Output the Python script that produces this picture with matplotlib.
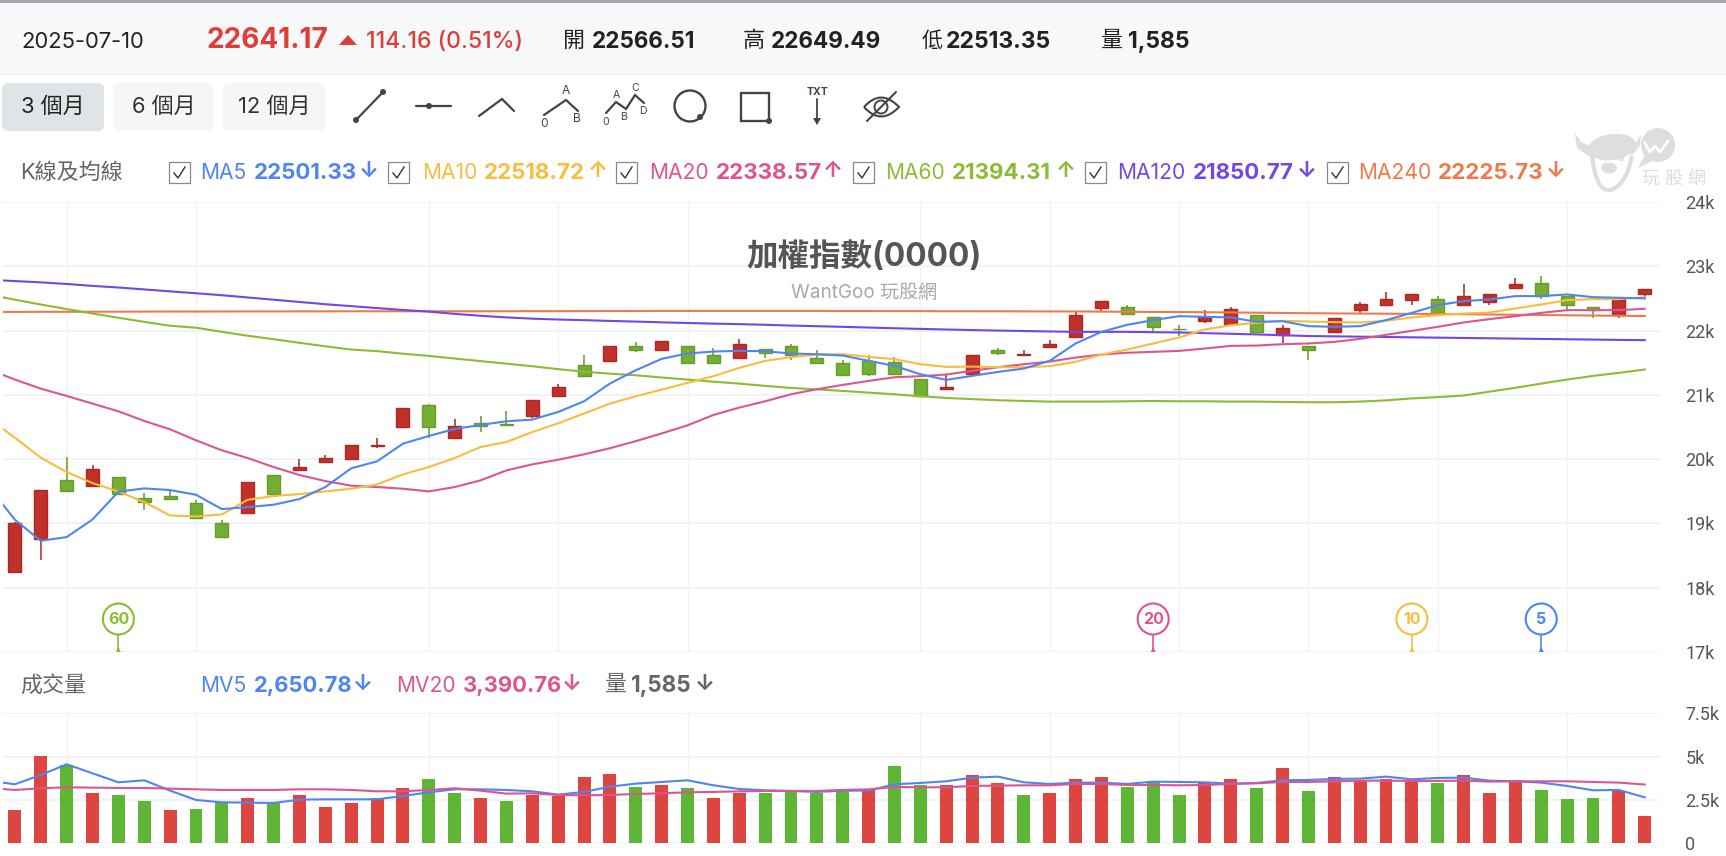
import numpy as np
import matplotlib
matplotlib.use('Agg')
import matplotlib.pyplot as plt
from matplotlib.patches import Rectangle, FancyBboxPatch, Circle, Ellipse, Polygon, PathPatch
from matplotlib.path import Path
from matplotlib.ticker import FixedLocator, FuncFormatter

plt.rcParams['font.family'] = ['Inter', 'Noto Sans CJK TC', 'DejaVu Sans']

# daily candles, oldest first
opens = [18242, 18761, 19675, 19581, 19722, 19400, 19431, 19322, 19005, 19161,
         19748, 19831, 19955, 20007, 20204, 20505, 20838, 20334, 20568, 20542,
         20677, 20978, 21461, 21523, 21762, 21700, 21762, 21617, 21575, 21710,
         21762, 21570, 21492, 21534, 21513, 21243, 21098, 21331, 21695, 21627,
         21747, 21902, 22349, 22359, 22214, 22028, 22147, 22100, 22235, 21934,
         21757, 21975, 22323, 22396, 22473, 22484, 22396, 22448, 22666, 22733,
         22536, 22359, 22240, 22566.51]
highs = [19021, 19524, 20028, 19903, 19722, 19472, 19514, 19358, 19057, 19644,
         19748, 20002, 20069, 20220, 20324, 20791, 20864, 20620, 20666, 20744,
         20921, 21170, 21627, 21762, 21819, 21840, 21762, 21736, 21866, 21710,
         21788, 21695, 21539, 21617, 21591, 21243, 21305, 21617, 21736, 21695,
         21861, 22292, 22463, 22400, 22214, 22084, 22318, 22359, 22235, 22084,
         21757, 22193, 22437, 22593, 22567, 22541, 22717, 22567, 22811, 22847,
         22536, 22359, 22484, 22649.49]
lows = [18242, 18434, 19509, 19581, 19462, 19202, 19384, 19088, 18787, 19161,
        19426, 19831, 19955, 20007, 20178, 20505, 20334, 20334, 20428, 20526,
        20646, 20978, 21300, 21523, 21669, 21700, 21503, 21503, 21575, 21575,
        21549, 21503, 21305, 21295, 21331, 20978, 21098, 21331, 21617, 21601,
        21747, 21902, 22307, 22240, 21964, 21913, 22120, 22100, 21975, 21799,
        21549, 21975, 22276, 22396, 22396, 22266, 22396, 22396, 22666, 22494,
        22318, 22199, 22199, 22513.35]
closes = [19005, 19524, 19509, 19846, 19462, 19332, 19384, 19088, 18787, 19644,
          19462, 19877, 20023, 20220, 20220, 20791, 20505, 20516, 20516, 20526,
          20921, 21118, 21300, 21762, 21695, 21840, 21503, 21503, 21788, 21648,
          21617, 21503, 21305, 21326, 21331, 20978, 21124, 21617, 21648, 21643,
          21788, 22240, 22463, 22265, 22048, 22018, 22204, 22339, 21975, 22037,
          21695, 22193, 22411, 22484, 22567, 22266, 22541, 22567, 22718, 22536,
          22401, 22318, 22484, 22641.17]

# moving averages start one session before the first candle
ma5 = [19566, 19057, 18730, 18787, 19062, 19493, 19545, 19519, 19446, 19223,
       19254, 19291, 19379, 19566, 19857, 19966, 20241, 20360, 20469, 20532,
       20589, 20615, 20734, 20900, 21176, 21383, 21560, 21643, 21674, 21684,
       21679, 21643, 21632, 21612, 21529, 21451, 21321, 21233, 21295, 21357,
       21409, 21529, 21799, 21980, 22090, 22162, 22224, 22214, 22204, 22136,
       22146, 22069, 22058, 22069, 22162, 22276, 22396, 22458, 22484, 22536,
       22536, 22562, 22520, 22510, 22501.33]
ma10 = [20630, 20334, 20023, 19799, 19628, 19498, 19332, 19124, 19109, 19140,
        19368, 19426, 19457, 19498, 19540, 19607, 19763, 19877, 20017, 20189,
        20267, 20422, 20557, 20710, 20864, 20978, 21082, 21186, 21290, 21420,
        21529, 21586, 21627, 21632, 21591, 21555, 21477, 21435, 21440, 21430,
        21430, 21445, 21513, 21627, 21705, 21799, 21892, 22017, 22084, 22120,
        22152, 22141, 22131, 22126, 22152, 22204, 22240, 22266, 22281, 22344,
        22406, 22474, 22489, 22489, 22518.72]
ma20 = [21393, 21238, 21097, 20983, 20864, 20744, 20594, 20464, 20293, 20137,
        20017, 19877, 19753, 19659, 19587, 19566, 19540, 19498, 19566, 19670,
        19825, 19919, 19991, 20075, 20170, 20280, 20400, 20526, 20687, 20802,
        20900, 21009, 21087, 21155, 21217, 21274, 21290, 21316, 21373, 21430,
        21477, 21518, 21580, 21627, 21655, 21669, 21684, 21721, 21762, 21767,
        21788, 21799, 21824, 21871, 21934, 21996, 22058, 22126, 22178, 22224,
        22276, 22318, 22318, 22318, 22338.57]
ma60 = [22560, 22480, 22405, 22335, 22265, 22200, 22135, 22075, 22045, 21980,
        21920, 21865, 21810, 21755, 21705, 21680, 21640, 21606, 21565, 21525,
        21485, 21445, 21400, 21360, 21330, 21305, 21270, 21238, 21205, 21175,
        21140, 21108, 21085, 21061, 21035, 21009, 20978, 20952, 20934, 20916,
        20905, 20895, 20895, 20895, 20900, 20905, 20900, 20900, 20895, 20895,
        20890, 20885, 20885, 20895, 20915, 20945, 20965, 20990, 21050, 21110,
        21175, 21238, 21295, 21342, 21394.31]
ma120 = [22790, 22770, 22750, 22725, 22695, 22670, 22640, 22610, 22580, 22550,
         22515, 22480, 22445, 22410, 22380, 22350, 22320, 22295, 22260, 22230,
         22205, 22185, 22172, 22162, 22150, 22140, 22128, 22118, 22108, 22100,
         22090, 22078, 22068, 22058, 22047, 22036, 22026, 22017, 22008, 22000,
         21993, 21986, 21980, 21980, 21980, 21975, 21970, 21960, 21950, 21940,
         21928, 21915, 21910, 21905, 21900, 21895, 21890, 21885, 21880, 21875,
         21870, 21865, 21860, 21855, 21850.77]
ma240 = [22290, 22290, 22292, 22292, 22293, 22294, 22295, 22296, 22296, 22297,
         22298, 22298, 22299, 22299, 22300, 22300, 22300, 22300, 22300, 22300,
         22301, 22302, 22302, 22303, 22304, 22304, 22305, 22305, 22305, 22305,
         22305, 22305, 22305, 22304, 22304, 22303, 22302, 22301, 22300, 22300,
         22299, 22298, 22297, 22295, 22292, 22290, 22288, 22285, 22282, 22278,
         22274, 22270, 22267, 22265, 22262, 22260, 22257, 22254, 22250, 22246,
         22242, 22238, 22234, 22230, 22225.73]

volume = [1904, 5038, 4519, 2904, 2808, 2442, 1904, 1981, 2365, 2615,
          2346, 2808, 2077, 2346, 2615, 3173, 3731, 2904, 2615, 2442,
          2808, 2712, 3827, 4000, 3269, 3365, 3173, 2615, 2904, 2904,
          3000, 2904, 3000, 3077, 4461, 3365, 3365, 3923, 3461, 2808,
          2904, 3731, 3827, 3269, 3558, 2808, 3461, 3731, 3173, 4365,
          3000, 3827, 3654, 3731, 3615, 3461, 3923, 2904, 3654, 3077,
          2538, 2615, 3000, 1585]
volume_up = 'RRGRGGRGGRGRRRRRGGRGRRRRGRGRRGGGGRGGRRRGRRRGGGRRGRGRRRRGRRRGGGRR'
mv5 = [3615, 3404, 3942, 4558, 4038, 3519, 3635, 3038, 2500, 2365,
       2346, 2327, 2519, 2538, 2538, 2538, 2731, 2942, 3115, 3115,
       3077, 3000, 2808, 2962, 3269, 3442, 3538, 3635, 3346, 3135,
       3058, 3019, 2962, 3038, 3040, 3404, 3481, 3577, 3788, 3846,
       3519, 3423, 3500, 3500, 3423, 3558, 3538, 3519, 3442, 3481,
       3635, 3654, 3711, 3731, 3846, 3692, 3769, 3788, 3615, 3577,
       3500, 3308, 3058, 3077, 2650.78]
mv20 = [3192, 3077, 3173, 3231, 3212, 3192, 3192, 3154, 3115, 3077,
        3077, 3077, 3115, 3115, 3077, 3000, 3000, 3077, 3173, 3038,
        2865, 2885, 2788, 2769, 2788, 2846, 2885, 2942, 2962, 3000,
        3019, 3019, 3019, 3077, 3115, 3250, 3231, 3231, 3308, 3327,
        3346, 3346, 3423, 3423, 3365, 3365, 3346, 3365, 3423, 3461,
        3538, 3538, 3577, 3615, 3615, 3596, 3596, 3615, 3558, 3577,
        3577, 3577, 3538, 3500, 3390.76]

# sessions that carry a vertical gridline
grid_days = [2, 7, 16, 21, 26, 35, 40, 45, 50, 55, 60]
price_ticks = [17000, 18000, 19000, 20000, 21000, 22000, 23000, 24000]
volume_ticks = [0, 2500, 5000, 7500]
ma_names = ['MA5', 'MA10', 'MA20', 'MA60', 'MA120', 'MA240']
ma_arrows = ['↓', '↑', '↑', '↑', '↓', '↓']
# session each average's drop-off flag sits on
flag_days = [4, 44, 54, 59]
flag_labels = ['60', '20', '10', '5']

RED = '#dd3f38'
BODY_RED = '#c2302a'
BODY_GREEN = '#74ae33'
MA_COLORS = ['#4f85f0', '#f8bc3e', '#db5691', '#8cbb35', '#7446e4', '#f0794b']
GRID = '#f1f2f3'
ICON = '#444444'

W, H = 1726, 856
LEFT, RIGHT = 3, 1659
# x pixel of session i is X0 + STEP * i
X0, STEP = 14.9, 25.87
fig = plt.figure(figsize=(W / 100, H / 100), dpi=100, facecolor='white')


def panel(top, bottom):
    return fig.add_axes([LEFT / W, 1 - bottom / H, (RIGHT - LEFT) / W, (bottom - top) / H])


def fs(px):
    return px * 0.72


def setup_panel(ax, ticks, formatter, ymin, ymax):
    ax.set_xlim(XMIN, XMAX)
    ax.set_ylim(ymin, ymax)
    for spine in ax.spines.values():
        spine.set_visible(False)
    ax.set_axisbelow(True)
    ax.xaxis.set_major_locator(FixedLocator(grid_days))
    ax.yaxis.set_major_locator(FixedLocator(ticks))
    ax.yaxis.set_major_formatter(FuncFormatter(formatter))
    ax.yaxis.tick_right()
    ax.tick_params(axis='x', length=0, labelbottom=False)
    ax.tick_params(axis='y', length=0, pad=19, labelsize=fs(18), labelcolor='#555555',
                   labelfontfamily='Roboto')
    ax.grid(axis='x', color=GRID, lw=1.0)
    ax.grid(axis='y', color='#f0f1f2', lw=1.3)
    for lab in ax.get_yticklabels():
        lab.set_ha('left')


def k_label(v, pos):
    return f'{v / 1000:g}k' if v else '0'


XMIN = (LEFT - X0) / STEP
XMAX = (RIGHT - X0) / STEP
days = np.arange(len(closes))
ma_days = np.arange(-1, len(closes))

ax_price = panel(202, 652)
setup_panel(ax_price, price_ticks, k_label, 17000, 24000)
ax_vol = panel(713.3, 843.3)
setup_panel(ax_vol, volume_ticks, k_label, 0, 7500)

# candles
o = np.array(opens)
h = np.array(highs)
l = np.array(lows)
c = np.array(closes)
up = c >= o
body_colors = [BODY_RED if u else BODY_GREEN for u in up]
edge_colors = ['#aa2a25' if u else '#669c2d' for u in up]
wick_colors = ['#a8241e' if u else '#5f9a2c' for u in up]
ax_price.vlines(days, l, h, colors=wick_colors, lw=1.1, zorder=2)
ax_price.bar(days, np.abs(c - o), bottom=np.minimum(o, c), width=0.5,
             color=body_colors, edgecolor=edge_colors, lw=1.0, zorder=3)

for series, color in zip([ma240, ma120, ma60, ma20, ma10, ma5], MA_COLORS[::-1]):
    ax_price.plot(ma_days, series, color=color, lw=1.5, zorder=4,
                  solid_joinstyle='round')

# volume panel
bar_colors = ['#dd4540' if f == 'R' else '#5fb636' for f in volume_up]
ax_vol.bar(days, volume, width=0.5, color=bar_colors, zorder=2)
ax_vol.plot(ma_days, mv5, color=MA_COLORS[0], lw=1.5, zorder=3)
ax_vol.plot(ma_days, mv20, color=MA_COLORS[2], lw=1.5, zorder=4)

# page furniture is laid out in pixels on a transparent full-size axes
ui = fig.add_axes([0, 0, 1, 1], zorder=5)
ui.set_xlim(0, W)
ui.set_ylim(H, 0)
ui.axis('off')
ui.patch.set_alpha(0)

ui.add_patch(Rectangle((0, 3), W, 71, color='#f7f8fa', lw=0))
ui.add_patch(Rectangle((0, 0), W, 3, color='#a4aab0', lw=0))
ui.add_patch(Rectangle((0, 73.5), W, 1.2, color='#e9ebed', lw=0))


def label(x, y, s, px, color='#222222', weight='normal', ha='left', **kw):
    return ui.text(x, y, s, fontsize=fs(px), color=color, fontweight=weight,
                   ha=ha, va='center', **kw)


label(21, 42, '2025-07-10', 22)
label(206, 40, '22641.17', 28, RED, 'bold')
ui.add_patch(Polygon([(339, 45), (357, 45), (348, 35)], color=RED, lw=0))
label(366, 42, '114.16 (0.51%)', 23, RED, 'medium')
label(563, 41, '開', 22)
label(592, 42, '22566.51', 22.5, weight='bold')
label(743, 41, '高', 22)
label(771, 42, '22649.49', 22.5, weight='bold')
label(922, 41, '低', 21)
label(946, 42, '22513.35', 23, weight='bold')
label(1101, 41, '量', 22)
label(1128, 42, '1,585', 23, weight='bold')

# range buttons
for x0, x1, text, bg, fg in [(2, 104, '3 個月', '#dfe4e6', '#222222'),
                             (113, 214, '6 個月', '#f5f6f8', '#333333'),
                             (223, 325, '12 個月', '#f5f6f8', '#333333')]:
    ui.add_patch(FancyBboxPatch((x0 + 3, 86), x1 - x0 - 6, 42, boxstyle='round,pad=0,rounding_size=3',
                                mutation_aspect=1, fc=bg, ec=bg, lw=6 * 0.72))
    label((x0 + x1) / 2, 107, text, 22, fg, ha='center')


def icon_line(points, lw=1.6):
    xs, ys = zip(*points)
    ui.plot(xs, ys, color=ICON, lw=lw, solid_capstyle='round', solid_joinstyle='miter')


def icon_dot(x, y, r=3):
    ui.add_patch(Circle((x, y), r, color=ICON, lw=0))


icon_line([(356, 120), (383, 92)])
icon_dot(356, 120)
icon_dot(383, 92)
icon_line([(416, 106), (451, 106)])
icon_dot(429, 106)
icon_line([(479, 116), (502, 99), (514, 111)])
icon_line([(544, 115), (566, 100), (578, 111)])
for x, y, s in [(566, 91, 'A'), (544, 124, '0'), (577, 119, 'B')]:
    label(x, y, s, 12, ICON, ha='center')
icon_line([(606, 113), (616, 102), (626, 109), (635, 95), (644, 103)])
for x, y, s in [(616, 95, 'A'), (635, 88, 'C'), (606, 122, '0'), (624, 117, 'B'), (643, 111, 'D')]:
    label(x, y, s, 10.5, ICON, ha='center')
ui.add_patch(Circle((690, 106), 15.5, fc='none', ec=ICON, lw=1.7))
icon_dot(700, 117)
ui.add_patch(Rectangle((741, 93), 28, 28, fc='none', ec=ICON, lw=1.7))
icon_dot(769, 121)
label(817, 92, 'TXT', 10.5, ICON, 'bold', ha='center')
icon_line([(817, 99), (817, 123)], lw=1.3)
ui.add_patch(Polygon([(813, 118), (821, 118), (817, 125)], color=ICON, lw=0))
# hidden-eye toggle
eye = Path([(864, 107), (881, 88), (899, 107), (881, 126), (864, 107)],
           [Path.MOVETO, Path.CURVE3, Path.CURVE3, Path.CURVE3, Path.CURVE3])
ui.add_patch(PathPatch(eye, fc='none', ec=ICON, lw=1.5))
ui.add_patch(Circle((881, 107), 6.5, fc='none', ec=ICON, lw=1.4))
icon_line([(867, 121), (896, 92)], lw=1.5)

# moving average legend
label(20, 173, 'K線及均線', 22, '#666666')
legend_values = ['22501.33', '22518.72', '22338.57', '21394.31', '21850.77', '22225.73']
legend_pos = [(169, 200, 254, 369), (388, 422, 484, 598), (616, 649, 716, 833),
              (853, 885, 952, 1066), (1085, 1117, 1193, 1307), (1327, 1358, 1438, 1556)]
for (bx, nx, vx, ax_), name, value, arrow, color in zip(legend_pos, ma_names, legend_values,
                                                        ma_arrows, MA_COLORS):
    ui.add_patch(Rectangle((bx, 162), 21, 21, fc='white', ec='#8a8a8a', lw=0.9))
    ui.plot([bx + 5, bx + 9, bx + 16], [173, 178, 167], color='#333333', lw=1.0)
    label(nx, 173, name, 21, color)
    label(vx, 173, value, 22.3, color, 'bold')
    label(ax_, 171, arrow, 22, color, 'bold', ha='center')

# volume legend
label(20, 686, '成交量', 22, '#666666')
label(200, 686, 'MV5', 21, MA_COLORS[0])
label(254, 686, '2,650.78', 22, MA_COLORS[0], 'bold')
label(363, 684, '↓', 22, MA_COLORS[0], 'bold', ha='center')
label(396, 686, 'MV20', 21, MA_COLORS[2])
label(463, 686, '3,390.76', 22, MA_COLORS[2], 'bold')
label(572, 684, '↓', 22, MA_COLORS[2], 'bold', ha='center')
label(605, 685, '量', 22, '#666666')
label(631, 686, '1,585', 22.5, '#666666', 'bold')
label(705, 684, '↓', 22, '#666666', 'bold', ha='center')

label(864, 257, '加權指數(0000)', 31.5, '#555555', 'bold', ha='center')
label(864, 293, 'WantGoo 玩股網', 19, '#a8a8a8', ha='center')

# flags where each average's oldest session drops out
for day, text, color in zip(flag_days, flag_labels,
                            [MA_COLORS[3], MA_COLORS[2], MA_COLORS[1], MA_COLORS[0]]):
    fx = X0 + STEP * day
    ui.plot([fx, fx], [635, 649], color=color, lw=1.2)
    ui.add_patch(Polygon([(fx - 2.5, 652), (fx + 2.5, 652), (fx, 647)], color=color, lw=0))
    ui.add_patch(Circle((fx, 619), 15.5, fc='white', ec=color, lw=1.5))
    label(fx, 619, text, 16, color, 'bold', ha='center')

# bull head logo, top right
LOGO = '#dedede'
ui.add_patch(Polygon([(1575, 133), (1577, 148), (1590, 157), (1600, 153), (1590, 146), (1581, 142)],
                     color=LOGO, lw=0))
ui.add_patch(Polygon([(1641, 135), (1640, 146), (1632, 155), (1624, 152), (1633, 146)],
                     color=LOGO, lw=0))
face = Path([(1592, 155), (1596, 192), (1610, 190), (1626, 186), (1632, 156)],
            [Path.MOVETO, Path.CURVE3, Path.CURVE3, Path.CURVE3, Path.CURVE3])
ui.add_patch(PathPatch(face, fc='white', ec=LOGO, lw=3))
ui.add_patch(Ellipse((1612, 147), 48, 26, angle=-8, color=LOGO, lw=0))
ui.add_patch(Ellipse((1609, 168), 16, 11, color=LOGO, lw=0))
ui.add_patch(Circle((1621, 158), 3, color=LOGO, lw=0))
ui.add_patch(Circle((1658, 145), 17, color=LOGO, lw=0))
ui.add_patch(Polygon([(1645, 155), (1638, 168), (1652, 161)], color=LOGO, lw=0))
ui.plot([1645, 1650, 1655, 1660, 1668], [143, 152, 146, 152, 141], color='white', lw=2)
label(1674, 179, '玩 股 網', 18, '#dcdcdc', ha='center')

fig.savefig('out.png', dpi=100, facecolor='white')
